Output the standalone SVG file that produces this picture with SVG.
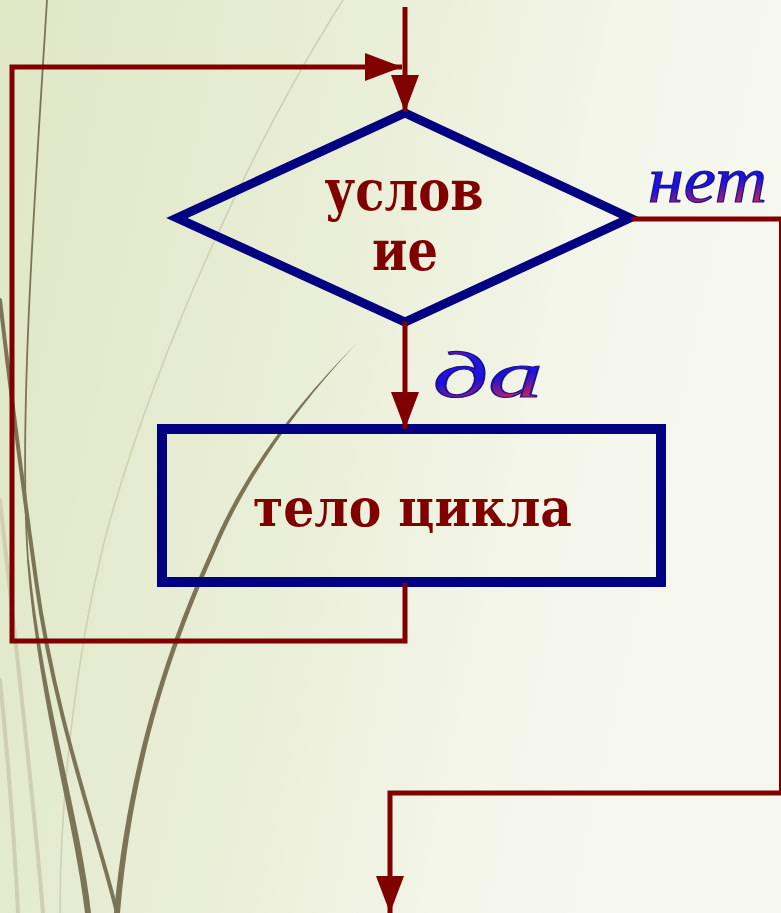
<svg xmlns="http://www.w3.org/2000/svg" width="781" height="913" viewBox="0 0 781 913">
  <defs>
    <linearGradient id="bg" x1="0" y1="0" x2="1" y2="0.25">
      <stop offset="0" stop-color="#dfe7c5"/>
      <stop offset="0.45" stop-color="#e9eed6"/>
      <stop offset="0.8" stop-color="#f4f6ea"/>
      <stop offset="1" stop-color="#f6f8f0"/>
    </linearGradient>
    <linearGradient id="wa" x1="0" y1="0" x2="0.2" y2="1">
      <stop offset="0" stop-color="#d8283c"/>
      <stop offset="0.32" stop-color="#2a18d8"/>
      <stop offset="0.62" stop-color="#1a10e0"/>
      <stop offset="1" stop-color="#e0283a"/>
    </linearGradient>
    <marker id="ah" markerUnits="userSpaceOnUse" viewBox="0 0 37 28" refX="37" refY="14" markerWidth="37" markerHeight="28" orient="auto">
      <path d="M0,0 L37,14 L0,28 Z" fill="#800000"/>
    </marker>
  </defs>
  <style>
    .deco-d { fill: none; stroke: #7b7456; stroke-linecap: round; }
    .deco-l { fill: none; stroke: #cfcfb3; stroke-linecap: round; }
    .conn { fill: none; stroke: #800000; stroke-width: 5; stroke-linejoin: miter; }
    .shape { fill: none; stroke: #000080; }
    .main { font-family: "DejaVu Serif", "Liberation Serif", serif; font-weight: bold; fill: #800000; text-anchor: middle; }
    .lbl { font-family: "Liberation Serif", "Times New Roman", serif; font-style: italic; fill: url(#wa); stroke: #1a1090; stroke-width: 1.2; }
  </style>

  <rect width="781" height="913" fill="url(#bg)"/>

  <g id="decoration">
    <path class="deco-l" stroke-width="1.5" d="M343,0 C260,130 165,330 110,520 C80,630 60,780 60,913"/>
    <path class="deco-l" stroke-width="4" d="M0,500 C15,640 33,790 43,913"/>
    <path class="deco-l" stroke-width="4" d="M0,680 C9,770 15,850 18,913"/>
    <path class="deco-d" stroke-width="1.8" d="M47,0 C36,180 18,420 28,560"/>
    <path fill="#7b7456" d="M27,560 C38,700 74,820 85,913 L91,913 C81,820 43,700 29,560 Z"/>
    <path class="deco-d" stroke-width="4" d="M0,300 C15,430 25,500 36,580 C55,720 100,840 117,913"/>
    <path fill="#7b7456" d="M357,343 C290,410 240,480 211,550 C170,640 128,760 114,913 L120,913 C133,760 174,642 215,552 C244,482 293,411 357,343 Z"/>
  </g>

  <g id="decision">
    <polygon class="shape" stroke-width="9" points="405,113 630,218 405,322 177,218"/>
    <text class="main" x="404" y="210" font-size="56" textLength="159" lengthAdjust="spacingAndGlyphs">услов</text>
    <text class="main" x="405" y="270" font-size="56" textLength="66" lengthAdjust="spacingAndGlyphs">ие</text>
  </g>

  <g id="process">
    <rect class="shape" stroke-width="10" x="162" y="429" width="499" height="153"/>
    <text class="main" x="412.5" y="526" font-size="52" textLength="319" lengthAdjust="spacingAndGlyphs">тело цикла</text>
  </g>

  <g id="labels">
    <text class="lbl" x="433" y="397" font-size="66" textLength="110" lengthAdjust="spacingAndGlyphs">да</text>
    <text class="lbl" x="648" y="202" font-size="66" textLength="119" lengthAdjust="spacingAndGlyphs">нет</text>
  </g>

  <g id="connectors">
    <line class="conn" x1="405" y1="7" x2="405" y2="112" marker-end="url(#ah)"/>
    <path class="conn" d="M405,583 V641 H12 V67 H402" marker-end="url(#ah)"/>
    <line class="conn" x1="405" y1="322" x2="405" y2="429" marker-end="url(#ah)"/>
    <path class="conn" d="M632,219 H781.5 V793 H390 V913" marker-end="url(#ah)"/>
  </g>
</svg>
